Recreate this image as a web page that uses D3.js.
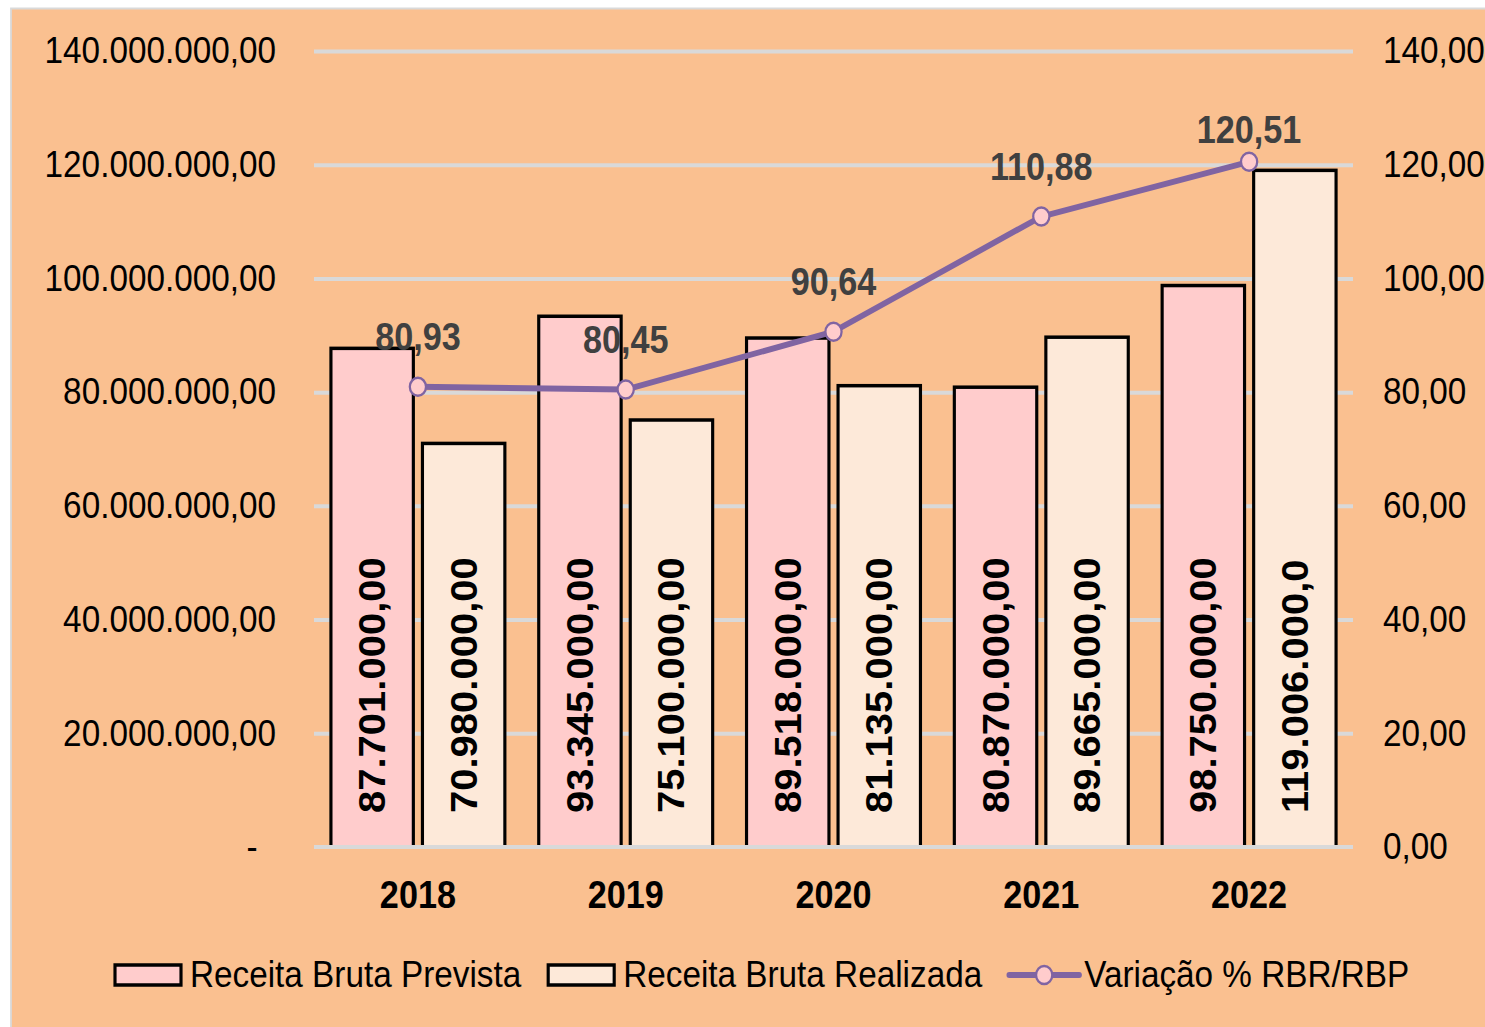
<!DOCTYPE html>
<html lang="pt-BR">
<head>
<meta charset="UTF-8">
<title>Receita Bruta Prevista x Realizada</title>
<script src="https://d3js.org/d3.v7.min.js"></script>
<style>
    body { margin: 0; background: #fff; }
    svg { display: block; font-family: "Liberation Sans", Arial, sans-serif; }
</style>
</head>
<body>
<svg id="chart"></svg>
<script>
const YEARS = ['2018', '2019', '2020', '2021', '2022'];
const PREVISTA = [87701000, 93345000, 89518000, 80870000, 98750000];
const REALIZADA = [70980000, 75100000, 81135000, 89665000, 119006000];
const VARIACAO = [80.93, 80.45, 90.64, 110.88, 120.51];
const LEFT_TICKS = [0, 20e6, 40e6, 60e6, 80e6, 100e6, 120e6, 140e6];
const RIGHT_TICKS = [0, 20, 40, 60, 80, 100, 120, 140];
const SERIES = ['Receita Bruta Prevista', 'Receita Bruta Realizada', 'Variação % RBR/RBP'];

const W = 1485, H = 1027;
const SQX = 0.9;            // the picture is a bit squeezed sideways
const iw = W / SQX;

const br = d3.formatLocale({decimal: ',', thousands: '.', grouping: [3], currency: ['R$', '']});
const money = br.format(',.2f');

const svg = d3.select('#chart').attr('width', W).attr('height', H);
const g = svg.append('g').attr('transform', `scale(${SQX},1)`);

g.append('rect')
    .attr('x', 11 / SQX).attr('y', 8.5)
    .attr('width', iw).attr('height', H)
    .attr('fill', '#FAC090').attr('stroke', '#D9D9D9').attr('stroke-width', 2);

const plot = {left: 314 / SQX, right: 1353 / SQX, top: 51, bottom: 847};

const y = d3.scaleLinear().domain([0, 140e6]).range([plot.bottom, plot.top]);
const yR = d3.scaleLinear().domain([0, 140]).range([plot.bottom, plot.top]);
const x0 = d3.scaleBand().domain(YEARS).range([plot.left, plot.right])
    .paddingInner(0.15).paddingOuter(0.075);
const x1 = d3.scaleBand().domain([0, 1]).range([0, x0.bandwidth()]).paddingInner(0.07);
const cx = yr => x0(yr) + x0.bandwidth() / 2;

// gridlines
const grid = g.append('g').attr('transform', `translate(${plot.left},0)`)
    .call(d3.axisLeft(y).tickValues(LEFT_TICKS.filter(v => v > 0))
        .tickSize(-(plot.right - plot.left)).tickFormat(''));
grid.select('.domain').remove();
grid.selectAll('line').attr('stroke', '#D9D9D9').attr('stroke-width', 4);

// left axis labels
const yl = g.append('g').attr('transform', `translate(${plot.left},0)`)
    .call(d3.axisLeft(y).tickValues(LEFT_TICKS).tickSize(0)
        .tickPadding(plot.left - 276 / SQX)
        .tickFormat(v => v === 0 ? '-\u00A0\u00A0' : money(v)));
yl.select('.domain').remove();
yl.selectAll('text').attr('font-size', 37).attr('fill', '#000').attr('font-family', null);

// right axis labels
const yr = g.append('g').attr('transform', `translate(${plot.right},0)`)
    .call(d3.axisRight(yR).tickValues(RIGHT_TICKS).tickSize(0)
        .tickPadding(1383 / SQX - plot.right)
        .tickFormat(br.format(',.2f')));
yr.select('.domain').remove();
yr.selectAll('text').attr('font-size', 37).attr('fill', '#000').attr('font-family', null);

// bars
const fills = ['#FFCCCC', '#FDE9D9'];
const rows = YEARS.map((yr, i) => ({year: yr, vals: [PREVISTA[i], REALIZADA[i]]}));
const grp = g.selectAll('.grp').data(rows).enter().append('g')
    .attr('transform', d => `translate(${x0(d.year)},0)`);
grp.selectAll('rect').data(d => d.vals).enter().append('rect')
    .attr('x', (d, k) => x1(k) + 1.5)
    .attr('y', d => y(d))
    .attr('width', x1.bandwidth() - 3)
    .attr('height', d => plot.bottom - y(d))
    .attr('fill', (d, k) => fills[k])
    .attr('stroke', '#000').attr('stroke-width', 3.5);
grp.selectAll('text').data(d => d.vals).enter().append('text')
    .attr('transform', (d, k) => `translate(${x1(k) + x1.bandwidth() / 2},${plot.bottom - 34}) rotate(-90)`)
    .attr('dy', '0.36em')
    .attr('font-size', 40).attr('font-weight', 'bold').attr('fill', '#000')
    .text(d => money(d).slice(0, 13));

// zero line over the bar bottoms
g.append('line')
    .attr('x1', plot.left).attr('x2', plot.right)
    .attr('y1', y(0)).attr('y2', y(0))
    .attr('stroke', '#D9D9D9').attr('stroke-width', 4);

// category labels
g.selectAll('.cat').data(YEARS).enter().append('text')
    .attr('x', d => cx(d)).attr('y', 908)
    .attr('text-anchor', 'middle')
    .attr('font-size', 38).attr('font-weight', 'bold').attr('fill', '#000')
    .text(d => d);

// variation line
const pts = YEARS.map((yr, i) => ({year: yr, v: VARIACAO[i]}));
g.append('path').datum(pts)
    .attr('d', d3.line().x(d => cx(d.year)).y(d => yR(d.v)))
    .attr('fill', 'none').attr('stroke', '#8064A2')
    .attr('stroke-width', 6).attr('stroke-linejoin', 'round').attr('stroke-linecap', 'round');
g.selectAll('.mk').data(pts).enter().append('circle')
    .attr('cx', d => cx(d.year)).attr('cy', d => yR(d.v)).attr('r', 9)
    .attr('fill', '#FFCCCC').attr('stroke', '#8064A2').attr('stroke-width', 2.5);
g.selectAll('.lbl').data(pts).enter().append('text')
    .attr('x', d => cx(d.year))
    .attr('y', d => Math.max(yR(d.v) - 37, 143))
    .attr('text-anchor', 'middle')
    .attr('font-size', 38).attr('font-weight', 'bold').attr('fill', '#404040')
    .text(d => br.format(',.2f')(d.v));

// legend
const leg = g.append('g');
const ly = 975;
let lx = 115 / SQX;
SERIES.forEach((name, i) => {
    if (i < 2) {
        leg.append('rect')
            .attr('x', lx).attr('y', ly - 10)
            .attr('width', 66 / SQX).attr('height', 20)
            .attr('fill', fills[i]).attr('stroke', '#000').attr('stroke-width', 3.5);
        lx += 75 / SQX;
    } else {
        leg.append('line')
            .attr('x1', lx).attr('x2', lx + 70 / SQX)
            .attr('y1', ly).attr('y2', ly)
            .attr('stroke', '#8064A2').attr('stroke-width', 6).attr('stroke-linecap', 'round');
        leg.append('circle')
            .attr('cx', lx + 35 / SQX).attr('cy', ly).attr('r', 9)
            .attr('fill', '#FFCCCC').attr('stroke', '#8064A2').attr('stroke-width', 2.5);
        lx += 75 / SQX;
    }
    const t = leg.append('text')
        .attr('x', lx).attr('y', ly + 12)
        .attr('font-size', 37).attr('fill', '#000')
        .text(name);
    lx += t.node().getComputedTextLength() + 27 / SQX;
});
</script>
</body>
</html>
